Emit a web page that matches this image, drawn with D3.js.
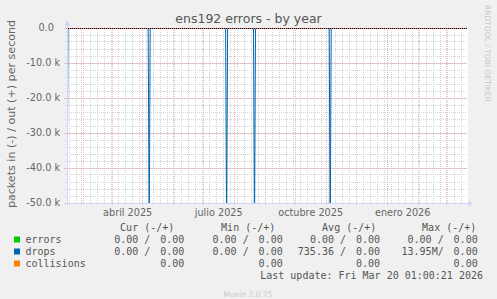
<!DOCTYPE html>
<html><head><meta charset="utf-8">
<script src="https://cdn.jsdelivr.net/npm/d3@7"></script>
<style>
html,body{margin:0;padding:0;background:#f0f0f0;}
svg{display:block;}
</style></head><body>
<svg id="chart" width="497" height="299"></svg>
<script>
// ---------------- data ----------------
const chartTitle = "ens192 errors - by year";
const yAxisTitle = "packets in (-) / out (+) per second";
const timeStart = "2025-02-14T07:12:00Z";
const timeEnd = "2026-03-21T07:12:00Z";
const yTickValues = [0, -10000, -20000, -30000, -40000, -50000];
const yTickLabels = ["0.0\u00a0\u00a0", "-10.0 k", "-20.0 k", "-30.0 k", "-40.0 k", "-50.0 k"];
const monthNames = ["enero","febrero","marzo","abril","mayo","junio","julio","agosto","septiembre","octubre","noviembre","diciembre"];

// drops, "in" direction (drawn negative), sparse samples around the spikes
const dropsInDates = [
  "2025-02-14T07:12:00Z","2025-02-15T07:12:00Z",
  "2025-05-06T12:00:00Z","2025-05-07T12:00:00Z","2025-05-08T12:00:00Z",
  "2025-07-22T22:00:00Z","2025-07-23T22:00:00Z","2025-07-24T22:00:00Z",
  "2025-08-19T19:00:00Z","2025-08-20T19:00:00Z","2025-08-21T19:00:00Z",
  "2025-11-03T12:00:00Z","2025-11-04T12:00:00Z","2025-11-05T12:00:00Z",
  "2026-03-21T07:12:00Z"];
const dropsInValues = [-60000,0, 0,-60000,0, 0,-58000,0, 0,-59000,0, 0,-60000,0, 0];
const flatDates = ["2025-02-14T07:12:00Z","2026-03-21T07:12:00Z"];
const errorsValues = [0, 0];
const collisionsValues = [0, 0];

const legendNames = ["errors", "drops", "collisions"];
const legendColors = ["#00cc00", "#0066b3", "#ff8000"];
const legendHeaders = ["Cur (-/+)", "Min (-/+)", "Avg (-/+)", "Max (-/+)"];
const legendInValues = [
  ["0.00 /", "0.00 /", "0.00 /", "0.00 /"],
  ["0.00 /", "0.00 /", "735.36 /", "13.95M/"],
  ["", "", "", ""]];
const legendOutValues = [
  ["0.00", "0.00", "0.00", "0.00"],
  ["0.00", "0.00", "0.00", "0.00"],
  ["0.00", "0.00", "0.00", "0.00"]];
const lastUpdate = "Last update: Fri Mar 20 01:00:21 2026";
const footerText = "Munin 2.0.75";
const watermark = "RRDTOOL / TOBI OETIKER";

// ---------------- layout ----------------
const L = 67, T = 28, W = 400, H = 175;
const svg = d3.select("#chart");
const fontSans = "'DejaVu Sans', sans-serif";
const fontMono = "'DejaVu Sans Mono', monospace";
const textCol = "#666";

svg.append("rect").attr("width", 497).attr("height", 299).attr("fill", "#f0f0f0");
svg.append("rect").attr("x", L).attr("y", T).attr("width", W + 1).attr("height", H + 1).attr("fill", "#ffffff");

const x = d3.scaleUtc().domain([new Date(timeStart), new Date(timeEnd)]).range([L, L + W]);
const y = d3.scaleLinear().domain([-50000, 0]).range([T + H, T]);
const px = v => Math.floor(v) + 0.5;

const es = d3.timeFormatLocale({
  dateTime: "%A, %e de %B de %Y, %X", date: "%d/%m/%Y", time: "%H:%M:%S",
  periods: ["AM", "PM"],
  days: ["domingo","lunes","martes","miércoles","jueves","viernes","sábado"],
  shortDays: ["dom","lun","mar","mié","jue","vie","sáb"],
  months: monthNames,
  shortMonths: ["ene","feb","mar","abr","may","jun","jul","ago","sep","oct","nov","dic"]
});
const fmtMonth = es.utcFormat("%B %Y");

const minorCol = "#d4d4d4", majorCol = "#f2b4b4";
const grid = svg.append("g");
// minor vertical: weeks
const weeks = d3.utcMonday.range(x.domain()[0], x.domain()[1]);
grid.selectAll(".wk").data(weeks).join("line")
  .attr("x1", d => px(x(d))).attr("x2", d => px(x(d)))
  .attr("y1", T).attr("y2", T + H + 1)
  .attr("stroke", minorCol).attr("stroke-dasharray", "1,1");
// minor horizontal
const minorY = d3.range(-50000, 1, 2000);
grid.selectAll(".my").data(minorY).join("line")
  .attr("x1", L - 2).attr("x2", L + W)
  .attr("y1", d => px(y(d))).attr("y2", d => px(y(d)))
  .attr("stroke", minorCol).attr("stroke-dasharray", "1,1");
// major vertical: months
const months = d3.utcMonth.range(x.domain()[0], x.domain()[1]);
grid.selectAll(".mo").data(months).join("line")
  .attr("x1", d => px(x(d))).attr("x2", d => px(x(d)))
  .attr("y1", T).attr("y2", T + H + 3)
  .attr("stroke", majorCol).attr("stroke-dasharray", "1,1");
// major horizontal
grid.selectAll(".My").data(yTickValues).join("line")
  .attr("x1", L - 3).attr("x2", L + W)
  .attr("y1", d => px(y(d))).attr("y2", d => px(y(d)))
  .attr("stroke", majorCol).attr("stroke-dasharray", "1,1");

// series
svg.append("clipPath").attr("id", "plotclip").append("rect")
  .attr("x", L).attr("y", T).attr("width", W + 1).attr("height", H + 1);
const line = d3.line().x(d => x(d[0])).y(d => y(d[1]));
const series = svg.append("g").attr("clip-path", "url(#plotclip)");
const flat = (vals) => flatDates.map((d, i) => [new Date(d), vals[i]]);
series.append("path").datum(flat(errorsValues)).attr("d", line)
  .attr("fill", "none").attr("stroke", legendColors[0]);
series.append("path").datum(dropsInDates.map((d, i) => [new Date(d), dropsInValues[i]])).attr("d", line)
  .attr("fill", "none").attr("stroke", legendColors[1]).attr("stroke-width", 1);
series.append("path").datum(flat(collisionsValues)).attr("d", line)
  .attr("fill", "none").attr("stroke", legendColors[2]);
// zero line
svg.append("line").attr("x1", L).attr("x2", L + W).attr("y1", px(y(0))).attr("y2", px(y(0)))
  .attr("stroke", "#000");
svg.append("line").attr("x1", L).attr("x2", L + W).attr("y1", px(y(0))).attr("y2", px(y(0)))
  .attr("stroke", "#e07070").attr("stroke-dasharray", "1,1");

// axes
const axisCol = "#cfd6f8";
svg.append("line").attr("x1", L - 3).attr("x2", L + W + 2).attr("y1", px(y(-50000))).attr("y2", px(y(-50000)))
  .attr("stroke", axisCol);
svg.append("line").attr("x1", L + 0.5).attr("x2", L + 0.5).attr("y1", T + H + 3).attr("y2", T - 3)
  .attr("stroke", axisCol);
svg.append("path").attr("d", `M${L + 0.5},${T - 8} L${L - 2.5},${T - 2} L${L + 3.5},${T - 2} Z`).attr("fill", axisCol);
const by = px(y(-50000));
svg.append("path").attr("d", `M${L + W + 6},${by} L${L + W + 1},${by - 3} L${L + W + 1},${by + 3} Z`).attr("fill", axisCol);

// y tick labels
svg.append("g").selectAll("text").data(yTickValues).join("text")
  .attr("x", 60).attr("y", d => y(d)).attr("dy", "0.36em")
  .attr("text-anchor", "end").attr("font-family", fontSans).attr("font-size", 9.7)
  .attr("fill", textCol).text((d, i) => yTickLabels[i]);

// x labels: every 3 months, centred mid-month
const labelMonths = d3.utcMonth.every(3).range(x.domain()[0], x.domain()[1]);
svg.append("g").selectAll("text").data(labelMonths).join("text")
  .attr("x", d => x(d3.utcDay.offset(d, 15))).attr("y", 215.5)
  .attr("text-anchor", "middle").attr("font-family", fontSans).attr("font-size", 9.7)
  .attr("fill", textCol).text(d => fmtMonth(d));

// title
svg.append("text").attr("x", 248.5).attr("y", 23).attr("text-anchor", "middle")
  .attr("font-family", fontSans).attr("font-size", 12.5).attr("fill", "#555").text(chartTitle);

// y axis title
svg.append("text").attr("transform", "translate(14.5,114) rotate(-90)").attr("text-anchor", "middle")
  .attr("font-family", fontSans).attr("font-size", 11.1).attr("fill", textCol).text(yAxisTitle);

// watermark
svg.append("text").attr("transform", "translate(485,5) rotate(90)").attr("text-anchor", "start")
  .attr("font-family", fontSans).attr("font-size", 7.5).attr("fill", "#c8c8c8").text(watermark);

// legend
const lg = svg.append("g").attr("font-family", fontMono).attr("font-size", 10).attr("fill", "#555");
const headerX = [120.7, 221.7, 322.7, 422.7];
const outX = [184.3, 282.7, 380, 477.7];
lg.selectAll(".hd").data(legendHeaders).join("text")
  .attr("x", (d, i) => headerX[i] - 0.6).attr("y", 231).text(d => d);
legendNames.forEach((name, r) => {
  const by = 243 + r * 12;
  lg.append("rect").attr("x", 14).attr("y", by - 6.5).attr("width", 6).attr("height", 6).attr("fill", legendColors[r]);
  lg.append("text").attr("x", 25.5).attr("y", by).text(name);
  legendInValues[r].forEach((v, c) => {
    if (v) lg.append("text").attr("x", outX[c] - 34).attr("y", by).attr("text-anchor", "end").text(v);
  });
  legendOutValues[r].forEach((v, c) => {
    lg.append("text").attr("x", outX[c]).attr("y", by).attr("text-anchor", "end").text(v);
  });
});
lg.append("text").attr("x", 483).attr("y", 279).attr("text-anchor", "end").text(lastUpdate);

svg.append("text").attr("x", 248).attr("y", 297).attr("text-anchor", "middle")
  .attr("font-family", fontSans).attr("font-size", 7.5).attr("fill", "#c8c8c8").text(footerText);
</script>
</body></html>
